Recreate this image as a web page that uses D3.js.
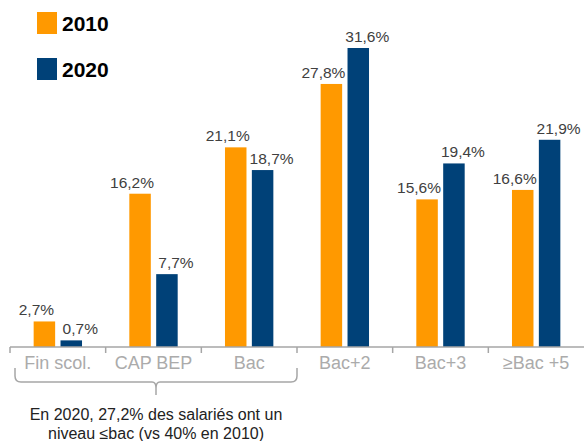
<!DOCTYPE html>
<html>
<head>
<meta charset="utf-8">
<script src="https://cdn.jsdelivr.net/npm/d3@7"></script>
<style>
  body { margin: 0; background: #fff; }
  text { font-family: "Liberation Sans", Arial, sans-serif; }
</style>
</head>
<body>
<div id="chart"></div>
<script>
const w = 584, h = 441;

const categories = ["Fin scol.", "CAP BEP", "Bac", "Bac+2", "Bac+3", "≥Bac +5"];
const years = ["2010", "2020"];
const values2010 = [2.7, 16.2, 21.1, 27.8, 15.6, 16.6];
const values2020 = [0.7, 7.7, 18.7, 31.6, 19.4, 21.9];
const noteLines = ["En 2020, 27,2% des salariés ont un", "niveau ≤bac (vs 40% en 2010)"];

const colors = { "2010": "#FF9900", "2020": "#004178" };
const labelShift = { "2010": -8, "2020": 9 };

const baseY = 347;

const svg = d3.select("#chart")
    .append("svg")
    .attr("width", w)
    .attr("height", h);

const x0 = d3.scaleBand()
    .domain(categories)
    .range([10, 584]);

const x1 = d3.scaleBand()
    .domain(years)
    .range([0, x0.bandwidth()])
    .paddingInner(0.2)
    .paddingOuter(0.88);

const y = d3.scaleLinear()
    .domain([0, 31.6])
    .range([baseY, 48]);

const rows = categories.map((c, i) => ({
    cat: c,
    vals: [{ year: "2010", v: values2010[i] }, { year: "2020", v: values2020[i] }]
}));

// bars
const groups = svg.selectAll("g.grp")
    .data(rows)
    .join("g")
    .attr("class", "grp")
    .attr("transform", d => "translate(" + x0(d.cat) + ",0)");

groups.selectAll("rect")
    .data(d => d.vals)
    .join("rect")
    .attr("x", d => x1(d.year))
    .attr("y", d => y(d.v))
    .attr("width", x1.bandwidth())
    .attr("height", d => y(0) - y(d.v))
    .attr("fill", d => colors[d.year]);

groups.selectAll("text.val")
    .data(d => d.vals)
    .join("text")
    .attr("class", "val")
    .attr("x", d => x1(d.year) + x1.bandwidth() / 2 + labelShift[d.year])
    .attr("y", d => y(d.v) - 6)
    .attr("text-anchor", "middle")
    .attr("font-size", 15.5)
    .attr("fill", "#404040")
    .text(d => d.v.toFixed(1).replace(".", ",") + "%");

// category axis
const axisG = svg.append("g")
    .attr("transform", "translate(0," + baseY + ")");

axisG.append("line")
    .attr("x1", 10).attr("x2", 584)
    .attr("y1", 0).attr("y2", 0)
    .attr("stroke", "#a6a6a6")
    .attr("stroke-width", 1.5);

const tickPos = categories.map(c => x0(c));
axisG.selectAll("line.tick")
    .data(tickPos)
    .join("line")
    .attr("class", "tick")
    .attr("x1", d => d).attr("x2", d => d)
    .attr("y1", 0).attr("y2", 6)
    .attr("stroke", "#a6a6a6")
    .attr("stroke-width", 1.5);

axisG.selectAll("text.cat")
    .data(categories)
    .join("text")
    .attr("class", "cat")
    .attr("x", d => x0(d) + x0.bandwidth() / 2)
    .attr("y", 22)
    .attr("text-anchor", "middle")
    .attr("font-size", 18)
    .attr("fill", "#ababab")
    .text(d => d);

// brace under first three categories
const bx0 = x0(categories[0]) + 5;
const bx1 = x0(categories[2]) + x0.bandwidth();
const bmid = (bx0 + bx1) / 2;
const by = 368, bb = 382;
svg.append("path")
    .attr("d", "M" + bx0 + "," + by +
        " L" + bx0 + "," + (bb - 6) +
        " Q" + bx0 + "," + bb + " " + (bx0 + 6) + "," + bb +
        " L" + (bmid - 4) + "," + bb +
        " Q" + bmid + "," + bb + " " + bmid + "," + (bb + 6) +
        " L" + bmid + "," + (bb + 13) +
        " M" + bmid + "," + (bb + 6) +
        " Q" + bmid + "," + bb + " " + (bmid + 4) + "," + bb +
        " L" + (bx1 - 6) + "," + bb +
        " Q" + bx1 + "," + bb + " " + bx1 + "," + (bb - 6) +
        " L" + bx1 + "," + by)
    .attr("fill", "none")
    .attr("stroke", "#a6a6a6")
    .attr("stroke-width", 1.5);

svg.selectAll("text.note")
    .data(noteLines)
    .join("text")
    .attr("class", "note")
    .attr("x", bmid)
    .attr("y", (d, i) => 420 + i * 19)
    .attr("text-anchor", "middle")
    .attr("font-size", 16)
    .attr("fill", "#222")
    .text(d => d);

// legend
const legend = svg.selectAll("g.leg")
    .data(years)
    .join("g")
    .attr("class", "leg")
    .attr("transform", (d, i) => "translate(37," + (12 + i * 46) + ")");

legend.append("rect")
    .attr("width", 20).attr("height", 22)
    .attr("fill", d => colors[d]);

legend.append("text")
    .attr("x", 25).attr("y", 19)
    .attr("font-size", 21)
    .attr("font-weight", "bold")
    .attr("fill", "#000")
    .text(d => d);
</script>
</body>
</html>
